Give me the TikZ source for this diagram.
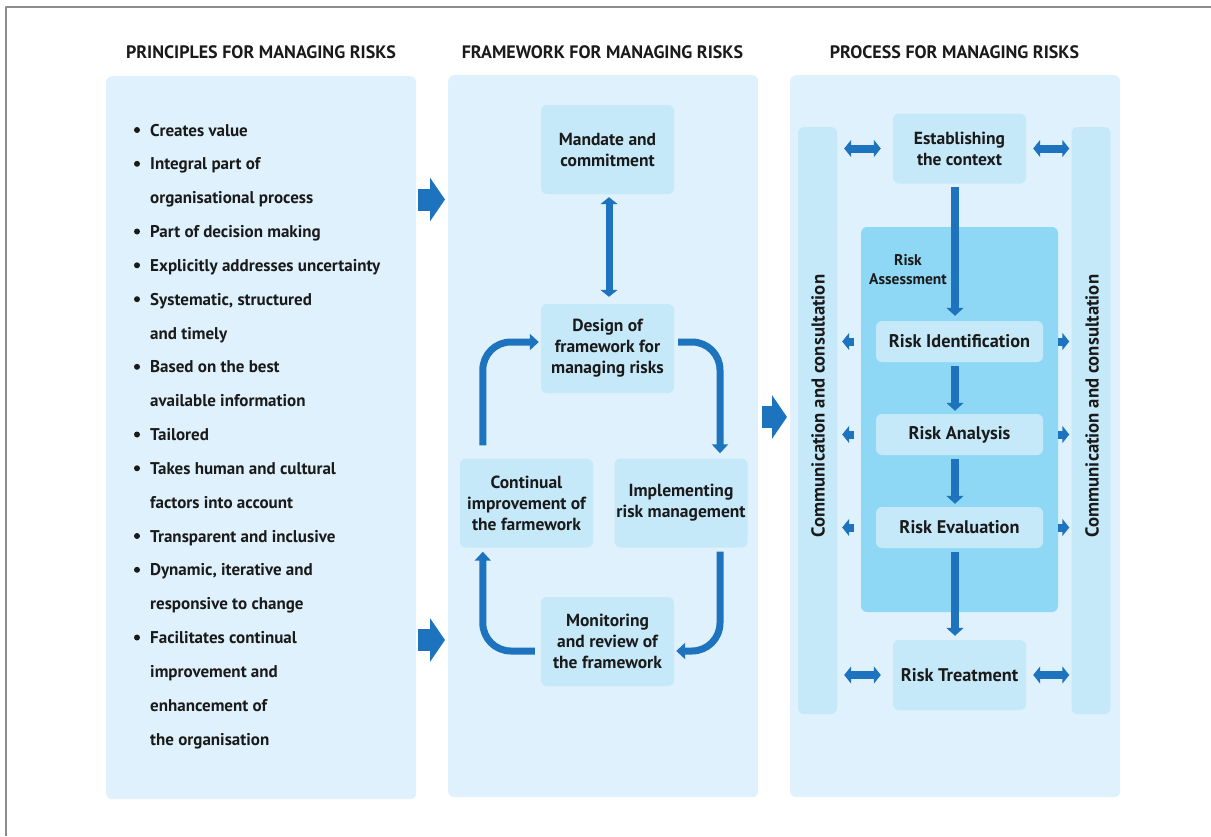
\documentclass[tikz,border=0pt]{standalone}
\usepackage{fontspec}
\setmainfont{PT Sans}
\usetikzlibrary{arrows.meta}

\definecolor{panelblue}{HTML}{DFF1FC}
\definecolor{boxblue}{HTML}{C6E9F9}
\definecolor{riskblue}{HTML}{8ED8F6}
\definecolor{arrowblue}{HTML}{1E73BE}
\definecolor{framegray}{HTML}{8C8C8C}
\definecolor{inkblack}{HTML}{1A1A1A}

\tikzset{
  heading/.style={anchor=base, text=inkblack, font=\bfseries\fontsize{18}{21}\selectfont},
  panel/.style={fill=panelblue, rounded corners=6pt, inner sep=0pt, anchor=north west},
  listline/.style={anchor=base west, inner sep=0pt, text=inkblack, font=\bfseries\fontsize{17}{20}\selectfont},
  bulletdot/.style={circle, fill=inkblack, inner sep=0pt, minimum size=6pt},
  stepbox/.style={fill=boxblue, rounded corners=6pt, inner sep=0pt, align=center,
    minimum width=133pt, minimum height=89pt, text=inkblack,
    font=\bfseries\fontsize{17.5}{21}\selectfont},
  riskbox/.style={stepbox, minimum width=167pt, minimum height=41pt,
    font=\bfseries\fontsize{18.3}{21}\selectfont},
  commbar/.style={fill=boxblue, rounded corners=6pt, inner sep=0pt,
    minimum width=39pt, minimum height=587pt},
  commtext/.style={rotate=90, text=inkblack, font=\bfseries\fontsize{18.7}{21}\selectfont},
  assess/.style={fill=riskblue, rounded corners=6pt, inner sep=0pt,
    minimum width=197pt, minimum height=385pt},
  flow/.style={draw=arrowblue, line width=8pt, -{Triangle[width=17pt,length=8pt]}},
  twoway/.style={draw=arrowblue, line width=8pt,
    {Triangle[width=17pt,length=7pt]}-{Triangle[width=17pt,length=7pt]}},
  outflow/.style={draw=arrowblue, line width=8pt, -{Triangle[width=17pt,length=7pt]}},
  loopflow/.style={draw=arrowblue, line width=7pt, rounded corners=28pt,
    -{Triangle[width=16pt,length=9pt]}},
  blockarrow/.style={draw=arrowblue, line width=22pt, -{Triangle[width=43pt,length=15pt]}}
}

\begin{document}
\begin{tikzpicture}[x=1pt, y=-1pt, line join=round]
    \useasboundingbox (0,0) rectangle (1211,836);

    % outer frame
    \draw[framegray, line width=2pt] (6,836) -- (6,7) -- (1211,7);

    % headings
    \node[heading] (hprin) at (261,58) {PRINCIPLES FOR MANAGING RISKS};
    \node[heading] (hfram) at (602.5,58) {FRAMEWORK FOR MANAGING RISKS};
    \node[heading] (hproc) at (954.5,58) {PROCESS FOR MANAGING RISKS};

    % panels
    \node[panel, minimum width=310pt, minimum height=723pt] (prin) at (106,76) {};
    \node[panel, minimum width=310pt, minimum height=722pt] (fram) at (448,75) {};
    \node[panel, minimum width=330pt, minimum height=722pt] (proc) at (790,75) {};

    % principles
    \node[bulletdot] (b1) at (137,130) {};
    \node[listline] (l1) at (150,136) {Creates value};
    \node[bulletdot] (b2) at (137,163.8) {};
    \node[listline] (l2) at (150,169.8) {Integral part of};
    \node[listline] (l3) at (150,203.7) {organisational process};
    \node[bulletdot] (b3) at (137,231.5) {};
    \node[listline] (l4) at (150,237.5) {Part of decision making};
    \node[bulletdot] (b4) at (137,265.3) {};
    \node[listline] (l5) at (150,271.3) {Explicitly addresses uncertainty};
    \node[bulletdot] (b5) at (137,299.2) {};
    \node[listline] (l6) at (150,305.2) {Systematic, structured};
    \node[listline] (l7) at (150,339) {and timely};
    \node[bulletdot] (b6) at (137,366.8) {};
    \node[listline] (l8) at (150,372.8) {Based on the best};
    \node[listline] (l9) at (150,406.6) {available information};
    \node[bulletdot] (b7) at (137,434.5) {};
    \node[listline] (l10) at (150,440.5) {Tailored};
    \node[bulletdot] (b8) at (137,468.3) {};
    \node[listline] (l11) at (150,474.3) {Takes human and cultural};
    \node[listline] (l12) at (150,508.1) {factors into account};
    \node[bulletdot] (b9) at (137,536) {};
    \node[listline] (l13) at (150,542) {Transparent and inclusive};
    \node[bulletdot] (b10) at (137,569.8) {};
    \node[listline] (l14) at (150,575.8) {Dynamic, iterative and};
    \node[listline] (l15) at (150,609.6) {responsive to change};
    \node[bulletdot] (b11) at (137,637.5) {};
    \node[listline] (l16) at (150,643.5) {Facilitates continual};
    \node[listline] (l17) at (150,677.3) {improvement and};
    \node[listline] (l18) at (150,711.1) {enhancement of};
    \node[listline] (l19) at (150,745) {the organisation};

    % framework
    \node[stepbox] (mand) at (607.5,149.5) {Mandate and\\commitment};
    \node[stepbox] (desg) at (607.5,348.5) {Design of\\framework for\\managing risks};
    \node[stepbox] (cont) at (526.5,503) {Continual\\improvement of\\the farmework};
    \node[stepbox] (impl) at (681,503) {Implementing\\risk management};
    \node[stepbox] (moni) at (607.5,641.5) {Monitoring\\and review of\\the framework};

    \draw[twoway, line width=7pt, shorten <=3pt, shorten >=7pt] ([xshift=1.5pt]mand.south) -- ([xshift=1.5pt]desg.north);
    \draw[loopflow] ([xshift=23pt,yshift=13pt]cont.north west) |- ([xshift=-2pt,yshift=6.5pt]desg.west);
    \draw[loopflow] ([xshift=4pt,yshift=6.5pt]desg.east) -| ([xshift=39pt,yshift=5pt]impl.north);
    \draw[loopflow] ([xshift=39pt,yshift=-4pt]impl.south) |- ([xshift=2pt,yshift=-9.5pt]moni.east);
    \draw[loopflow] ([xshift=-6pt,yshift=-9.5pt]moni.west) -| ([xshift=23pt,yshift=-4pt]cont.south west);

    % process
    \node[commbar] (comL) at (817.5,420.5) {};
    \node[commbar] (comR) at (1091,420.5) {};
    \node[commtext] (ctL) at (818,406) {Communication and consultation};
    \node[commtext] (ctR) at (1092,406) {Communication and consultation};
    \node[assess] (ra) at (959.5,419.5) {};
    \node[align=center, text=inkblack, font=\bfseries\fontsize{15.5}{19}\selectfont] (ralab) at (908,270) {Risk\\Assessment};
    \node[stepbox, minimum height=70pt] (estb) at (959.5,148.5) {Establishing\\the context};
    \node[riskbox] (rid) at (959.5,341.5) {Risk Identification};
    \node[riskbox] (ran) at (959.5,434.5) {Risk Analysis};
    \node[riskbox] (rev) at (959.5,527.5) {Risk Evaluation};
    \node[stepbox, minimum height=70pt, font=\bfseries\fontsize{18.3}{21}\selectfont] (rtr) at (959.5,675) {Risk Treatment};

    \draw[flow, shorten <=3pt, shorten >=5pt] ([xshift=-4.5pt]estb.south) -- ([xshift=-4.5pt]rid.north);
    \draw[flow, shorten <=4pt, shorten >=3pt] ([xshift=-4.5pt]rid.south) -- ([xshift=-4.5pt]ran.north);
    \draw[flow, shorten <=4pt, shorten >=3pt] ([xshift=-4.5pt]ran.south) -- ([xshift=-4.5pt]rev.north);
    \draw[flow, shorten <=4pt, shorten >=4pt] ([xshift=-4.5pt]rev.south) -- ([xshift=-4.5pt]rtr.north);

    \draw[twoway, shorten <=7pt, shorten >=12pt] (estb.west -| comL.east) -- (estb.west);
    \draw[twoway, shorten <=7pt, shorten >=2pt] (estb.east) -- (estb.east -| comR.west);
    \draw[twoway, shorten <=7pt, shorten >=12pt] (rtr.west -| comL.east) -- (rtr.west);
    \draw[twoway, shorten <=7pt, shorten >=2pt] (rtr.east) -- (rtr.east -| comR.west);

    \draw[outflow, shorten <=7pt, shorten >=5pt] (rid.west -| ra.west) -- (rid.west -| comL.east);
    \draw[outflow, shorten >=2pt] (rid.east -| ra.east) -- (rid.east -| comR.west);
    \draw[outflow, shorten <=7pt, shorten >=5pt] (ran.west -| ra.west) -- (ran.west -| comL.east);
    \draw[outflow, shorten >=2pt] (ran.east -| ra.east) -- (ran.east -| comR.west);
    \draw[outflow, shorten <=7pt, shorten >=5pt] (rev.west -| ra.west) -- (rev.west -| comL.east);
    \draw[outflow, shorten >=2pt] (rev.east -| ra.east) -- (rev.east -| comR.west);

    % block arrows between panels
    \coordinate (inA) at (0,199.5);
    \coordinate (inB) at (0,640);
    \coordinate (inC) at (0,417);
    \draw[blockarrow, shorten <=2pt, shorten >=3pt] (prin.east |- inA) -- (fram.west |- inA);
    \draw[blockarrow, shorten <=2pt, shorten >=3pt] (prin.east |- inB) -- (fram.west |- inB);
    \draw[blockarrow, shorten <=4pt, shorten >=3pt] (fram.east |- inC) -- (proc.west |- inC);
\end{tikzpicture}
\end{document}
